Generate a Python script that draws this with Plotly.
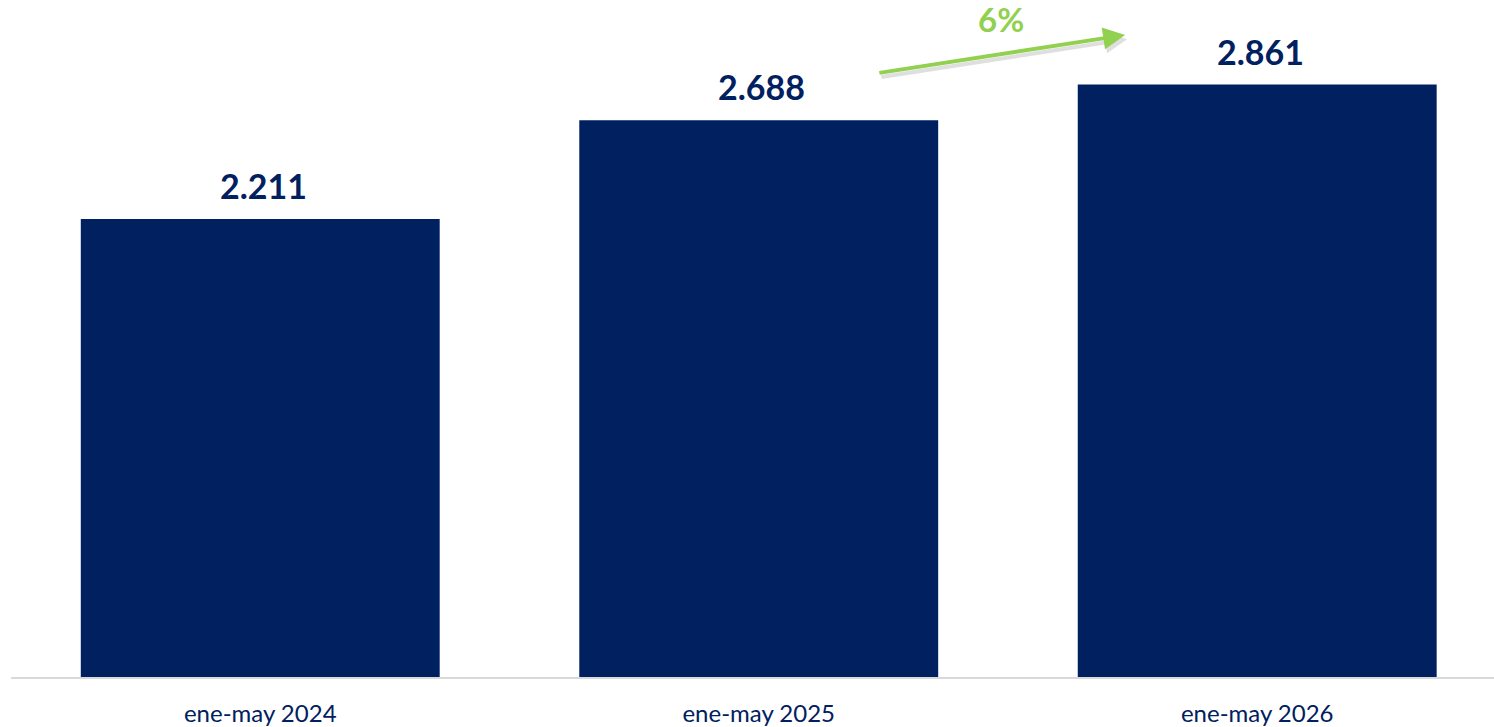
import plotly.graph_objects as go

categories = ["ene-may 2024", "ene-may 2025", "ene-may 2026"]
values = [2211, 2688, 2861]
growth_label = "6%"

navy = "#002060"
green = "#92D050"

fig = go.Figure()
fig.add_trace(go.Bar(
    x=categories, y=values, marker_color=navy, width=0.72,
    marker_line_width=0, hoverinfo="skip",
))

for c, v in zip(categories, values):
    fig.add_annotation(
        x=c, y=v, text=f"{v:,}".replace(",", "."), showarrow=False,
        yanchor="bottom", yshift=11, xshift=3,
        font=dict(family="Lato", size=34, color=navy, weight="bold"),
    )

# growth arrow between 2025 and 2026 (shadow + arrow)
x0, x1 = 1.239, 1.735
y0, y1 = 2916, 3100
fig.add_annotation(
    x=x1 + 0.004, y=y1 - 20, ax=x0 + 0.004, ay=y0 - 20,
    xref="x", yref="y", axref="x", ayref="y",
    showarrow=True, arrowhead=2, arrowsize=1.1, arrowwidth=4,
    arrowcolor="rgba(0,0,0,0.12)", text="",
)
fig.add_annotation(
    x=x1, y=y1, ax=x0, ay=y0,
    xref="x", yref="y", axref="x", ayref="y",
    showarrow=True, arrowhead=2, arrowsize=1.1, arrowwidth=4,
    arrowcolor=green, text="",
)
fig.add_annotation(
    x=(x0 + x1) / 2, y=1, xref="x", yref="paper", yanchor="top", yshift=3,
    text=growth_label, showarrow=False,
    font=dict(family="Lato", size=33, color=green, weight="bold"),
)

fig.update_layout(
    width=1494, height=727,
    margin=dict(l=11, r=0, t=0, b=50),
    plot_bgcolor="white", paper_bgcolor="white",
    showlegend=False, bargap=0.28,
    xaxis=dict(
        range=[-0.5, 2.475], showgrid=False, showline=True,
        linecolor="#d9d9d9", linewidth=2, ticks="",
        tickfont=dict(family="Lato", size=24, color=navy),
        ticklabelstandoff=14,
    ),
    yaxis=dict(range=[0, 3269], visible=False, showgrid=False),
)

fig.write_html(
    "out.html",
    config={"displayModeBar": False},
    post_script="document.body.style.margin='0';document.body.style.overflow='hidden';",
)
